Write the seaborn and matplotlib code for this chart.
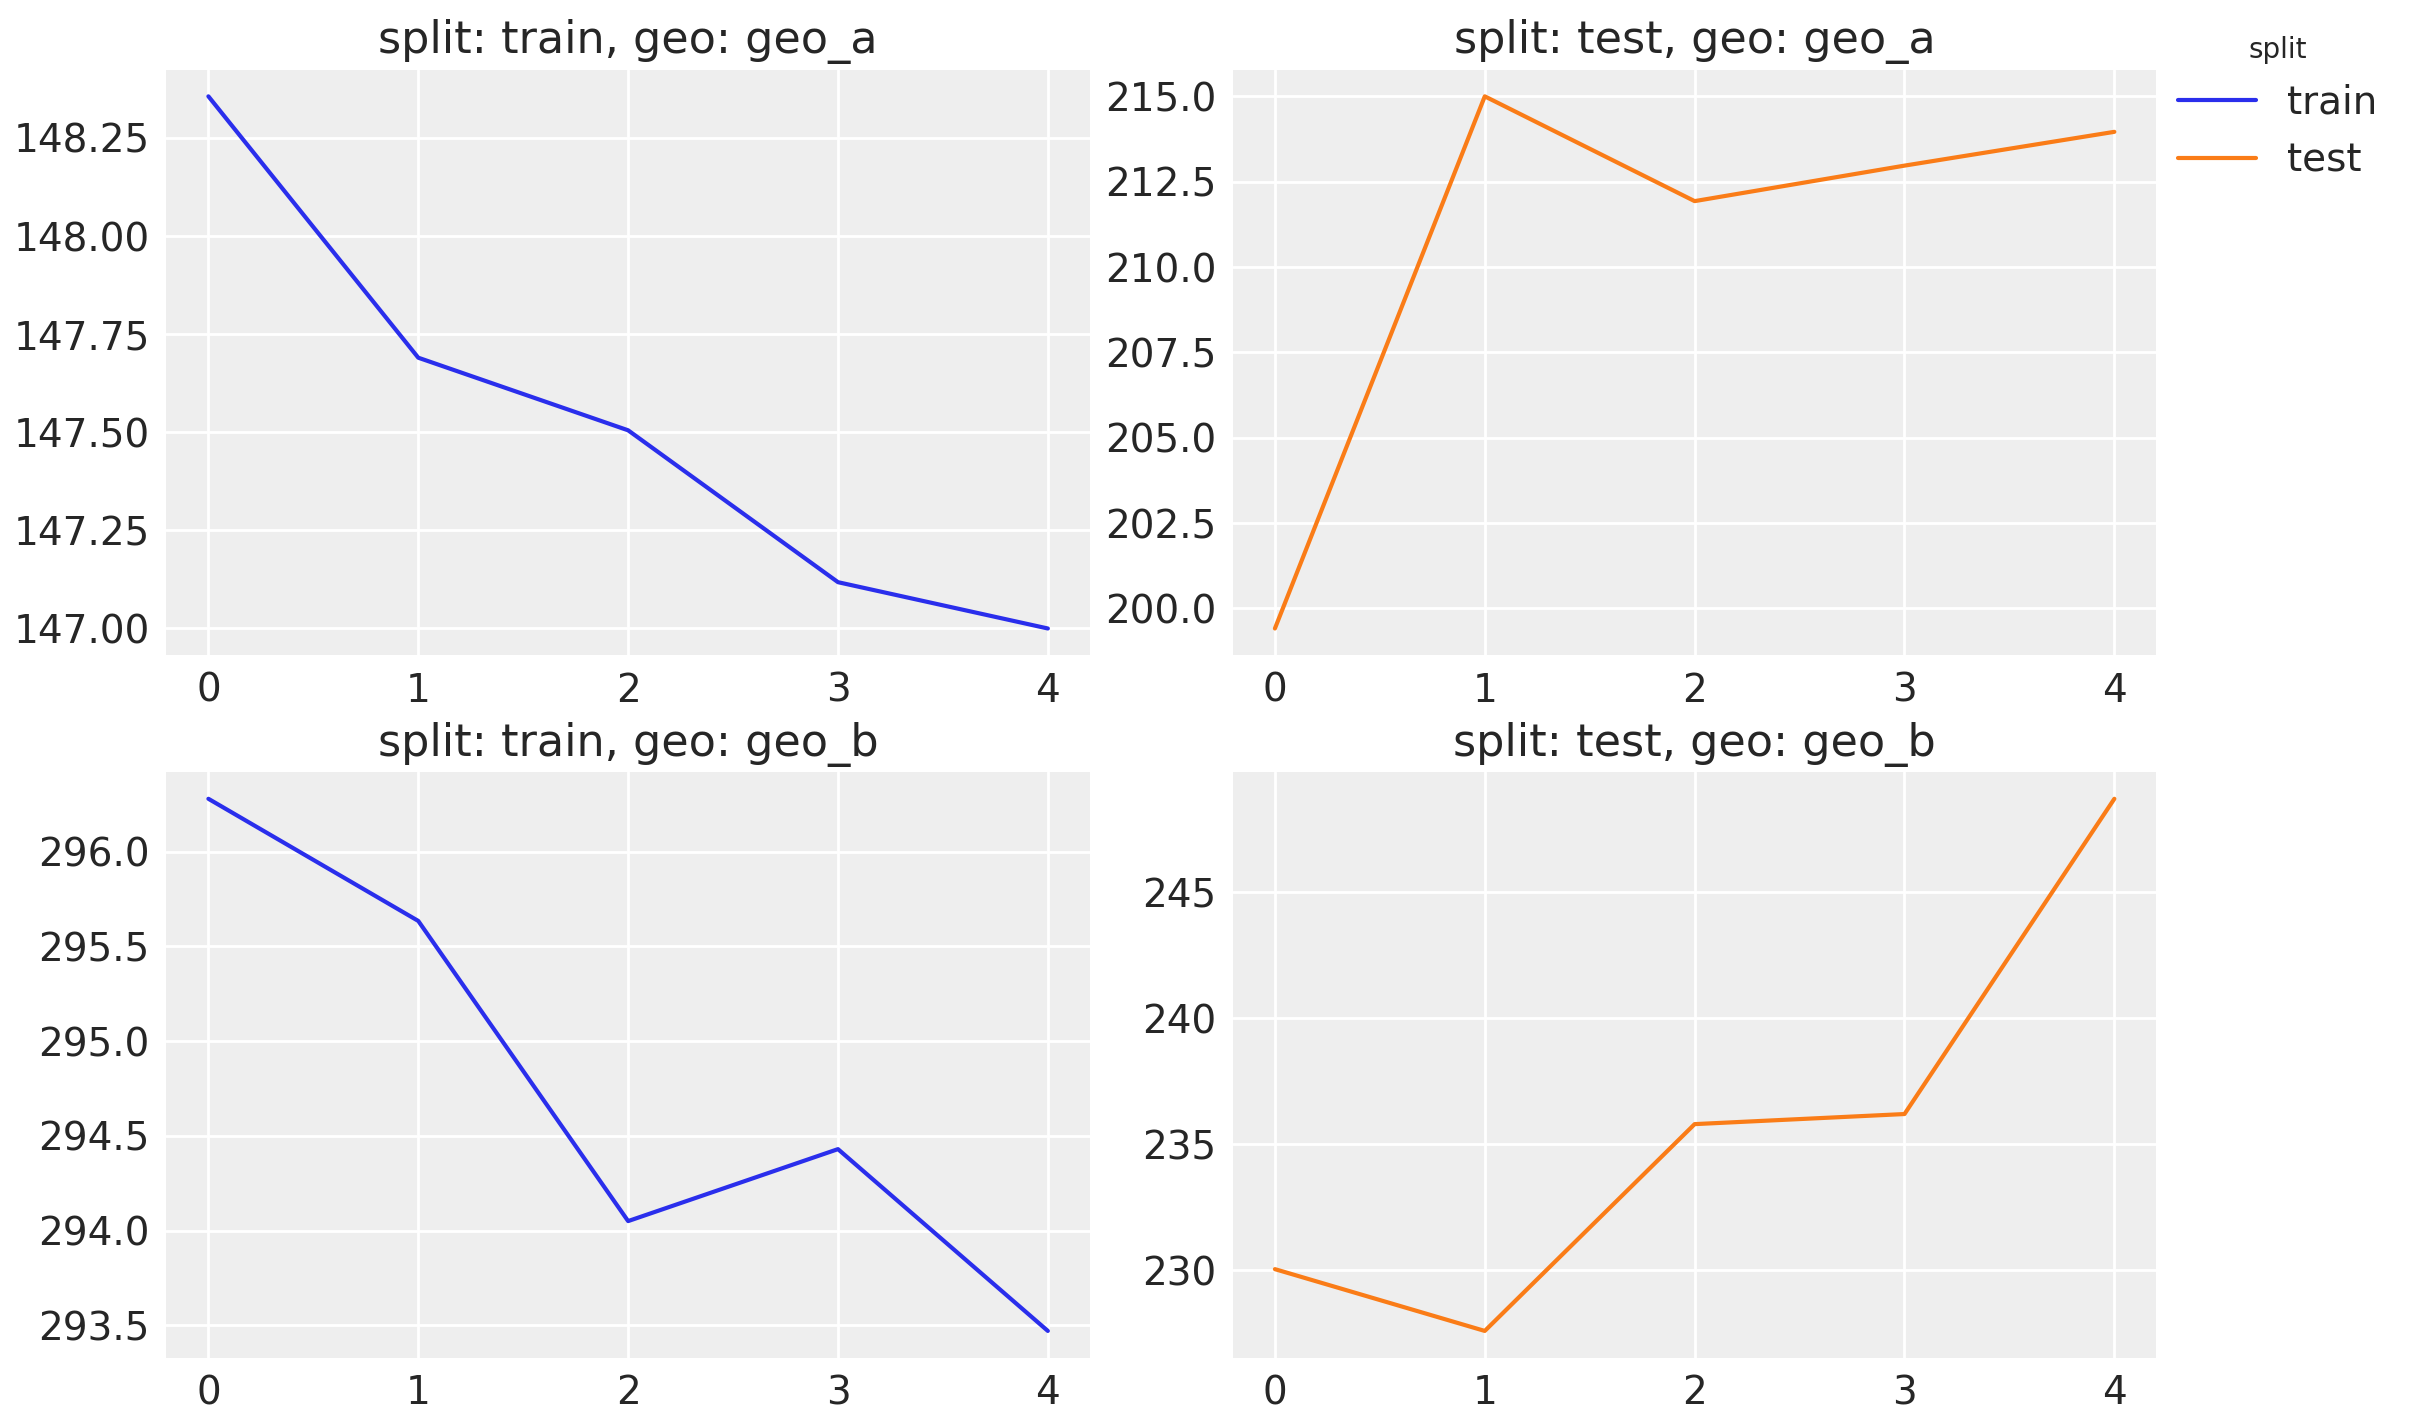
import numpy as np
import pandas as pd
import matplotlib
matplotlib.use("Agg")
import matplotlib.pyplot as plt
import seaborn as sns

# values
steps = [0, 1, 2, 3, 4]
train_geo_a = [148.356, 147.69, 147.505, 147.118, 147.00]
test_geo_a = [199.41, 215.0, 211.93, 212.97, 213.96]
train_geo_b = [296.28, 295.635, 294.05, 294.43, 293.47]
test_geo_b = [230.05, 227.6, 235.8, 236.2, 248.7]

splits = ["train", "test"]
geos = ["geo_a", "geo_b"]
series = {
    ("train", "geo_a"): train_geo_a,
    ("test", "geo_a"): test_geo_a,
    ("train", "geo_b"): train_geo_b,
    ("test", "geo_b"): test_geo_b,
}

rows = []
for (split, geo), vals in series.items():
    for s, v in zip(steps, vals):
        rows.append({"step": s, "value": v, "split": split, "geo": geo})
df = pd.DataFrame(rows)

sns.set_theme(style="darkgrid", rc={
    "axes.facecolor": "#eeeeee",
    "grid.color": "white",
    "axes.edgecolor": "white",
})
plt.rcParams["font.family"] = ["DejaVu Sans"]
palette = {"train": "#2a2eec", "test": "#fa7c17"}

fig, axes = plt.subplots(2, 2, figsize=(12.06, 7.115), dpi=200)
fig.subplots_adjust(left=0.069, right=0.894, top=0.951, bottom=0.046,
                    wspace=0.155, hspace=0.2)

for i, geo in enumerate(geos):
    for j, split in enumerate(splits):
        ax = axes[i, j]
        sub = df[(df.geo == geo) & (df.split == split)]
        sns.lineplot(data=sub, x="step", y="value", hue="split",
                     hue_order=splits, palette=palette, ax=ax,
                     legend=(i == 0 and j == 1), linewidth=1.5)
        ax.set_title(f"split: {split}, geo: {geo}", fontsize=16)
        ax.set_xlabel("")
        ax.set_ylabel("")
        ax.set_xticks(steps)
        ax.tick_params(labelsize=14, length=0, pad=6)
        for sp in ax.spines.values():
            sp.set_visible(False)

leg_ax = axes[0, 1]
handles, labels = leg_ax.get_legend_handles_labels()
leg_ax.get_legend().remove()
fig.legend(handles, labels, title="split", loc="upper left",
           bbox_to_anchor=(0.8885, 0.999), frameon=False, fontsize=14,
           title_fontsize=10)

fig.savefig("out.png", dpi=200)
